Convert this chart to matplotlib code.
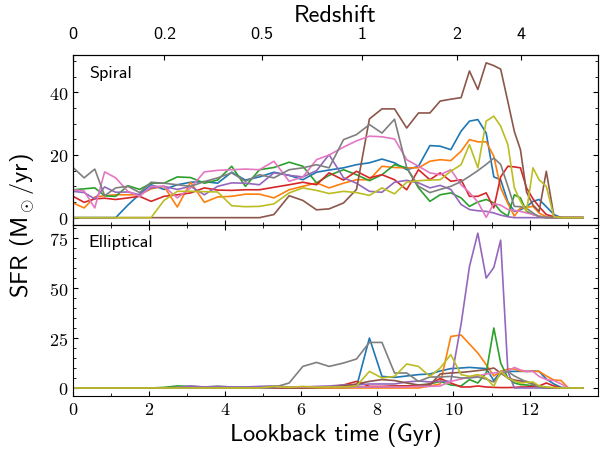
import numpy as np
import matplotlib
matplotlib.use('Agg')
import matplotlib.pyplot as plt
from matplotlib.ticker import MultipleLocator, AutoMinorLocator

plt.rcParams['mathtext.fontset'] = 'cm'
plt.rcParams['axes.formatter.use_mathtext'] = True
plt.rcParams['font.family'] = 'cmr10'

# lookback time of the snapshots (Gyr)
time = [0.00, 0.29, 0.57, 0.83, 1.12, 1.44, 1.75, 2.05, 2.39, 2.74, 3.09, 3.45, 3.80,
        4.17, 4.53, 4.90, 5.28, 5.68, 6.04, 6.40, 6.73, 7.11, 7.45, 7.79, 8.12, 8.45,
        8.77, 9.08, 9.38, 9.65, 9.93, 10.20, 10.42, 10.64, 10.86, 11.06, 11.24, 11.43,
        11.60, 11.76, 11.92, 12.09, 12.25, 12.44, 12.64, 12.83, 13.02, 13.21, 13.40]

spiral = {
    'blue':   [0, 0, 0, 0, 0, 4, 7.5, 10.5, 9, 10.5, 11.3, 11.5, 11, 14.5, 12, 13, 14.5, 13.5,
               12.1, 14.5, 15.2, 15.9, 16.9, 17.5, 18.7, 17.5, 15.3, 16.4, 23, 22.8, 21.7, 27.6,
               30.8, 31.3, 27, 13, 12.1, 5, 2, 2.5, 3.5, 5.2, 5.8, 3.5, 1, 0, 0, 0, 0],
    'orange': [4.7, 3.1, 6.6, 7, 7.3, 7.3, 7.3, 9.2, 10, 3.4, 11.3, 4.9, 6.6, 6.8, 7.5, 7.5,
               6.3, 8.9, 10, 11.1, 9.5, 11, 12.1, 12.1, 16.4, 16, 15.9, 15.9, 18, 18.5, 18.2,
               21.2, 24.9, 24.2, 24.2, 19.6, 9.5, 4.5, 0.5, 3.1, 3.3, 3.6, 1.5, 0.3, 0, 0, 0, 0, 0],
    'green':  [8.9, 9.2, 9.5, 7, 6.8, 10.2, 9, 11, 11, 13, 12.8, 11, 12, 16.4, 10, 15.3, 16,
               17.7, 16.4, 11.1, 13.5, 15.3, 13.7, 11.8, 13.7, 16.9, 15.9, 9.5, 5.2, 7.3, 7.9,
               6.3, 3.6, 5, 5.8, 4.7, 2, 0.5, 7.3, 6.3, 2, 1, 0.5, 0, 0, 0, 0, 0, 0],
    'red':    [6.8, 4.9, 6, 6.2, 5.8, 6.3, 6.8, 5.2, 6.8, 7.3, 7.9, 9.5, 8.8, 8.7, 8.9, 8.9,
               9.7, 10.5, 11.3, 10.5, 14.3, 12, 14.8, 12.7, 13.7, 12.1, 8.9, 15.3, 12.1, 14.3,
               11.6, 12.1, 6.8, 6.8, 7.9, 3.1, 13, 16.4, 16.2, 15.9, 9.5, 6, 3.5, 1, 0.3, 0, 0, 0, 0],
    'purple': [8.4, 8, 6, 9.8, 8.1, 8.2, 7.3, 9.5, 10, 9, 10, 7.3, 10, 11.1, 11, 10.5, 14.3,
               13.5, 13, 15, 20.1, 12.7, 11, 8.4, 8.1, 11.3, 11.9, 11.1, 9.5, 10.3, 9, 4.2, 2.6,
               2.2, 2, 1.5, 0.8, 0.3, 0, 0, 0, 0, 0, 0, 0, 0, 0, 0, 0],
    'brown':  [0, 0, 0, 0, 0, 0, 0, 0, 0, 0, 0, 0, 0, 0, 0, 0, 1, 7, 5.5, 2.5, 2.8, 4.7, 9,
               31.5, 34.7, 34.7, 28.6, 33.4, 33.4, 37.2, 37.8, 38.3, 46.8, 40.9, 49.4, 48.5,
               47.4, 37, 27.5, 21.7, 8.2, 4, 2, 14.8, 0.5, 0, 0, 0, 0],
    'pink':   [8.9, 8.5, 3.1, 14.6, 12.7, 8.4, 6.8, 10, 10, 6.3, 9.5, 14.6, 15.1, 15.3, 15.5,
               15.3, 18, 11.6, 13, 18.5, 20, 22.5, 24.5, 26, 25.8, 25.1, 18.5, 16.4, 14.3, 13.7,
               15.3, 10.5, 8, 5, 0.1, 4.5, 4, 2.6, 2.3, 2, 1.5, 1, 0.5, 0, 0, 0, 0, 0, 0],
    'gray':   [16, 12.7, 15.5, 7, 9.5, 10, 8, 11.3, 11, 10.5, 10, 11.5, 12.7, 14.3, 11.6, 13.7,
               12.7, 15.3, 15.9, 16.9, 15.9, 24.9, 26.5, 29.7, 27, 31.4, 16, 10, 8, 9, 10, 11.5,
               13.2, 15, 17, 19, 17, 10, 3.6, 3.5, 3, 1.5, 0.2, 0, 0, 0, 0, 0, 0],
    'olive':  [0, 0, 0, 0, 0, 0, 0, 0, 5.5, 8.4, 8.4, 8.3, 8.2, 3.8, 3.5, 3.6, 4.4, 7.9, 9.5,
               8.7, 7.7, 8.4, 8, 7.1, 9.5, 7.6, 11.3, 11.8, 12, 12.1, 14.8, 16.9, 23.3, 15.9,
               30.8, 32.4, 29.2, 23.3, 9.5, 5.2, 2, 15.9, 12.1, 10, 0.3, 0, 0, 0, 0],
}

elliptical = {
    'blue':   [0]*22 + [0.5, 25, 5.8, 5.3, 6, 6.7, 7, 8.5, 9.7, 10, 10.3, 10, 9.7, 3.7, 8.3,
                        8.3, 8.3, 8.3, 8.3, 8.5, 8.3, 4.5, 2, 0.3, 0, 0, 0],
    'orange': [0]*28 + [1, 2, 25.8, 26.5, 22, 17.5, 11.7, 6, 8.3, 9.5, 9.5, 8.5, 8.3, 8.3,
                        8.3, 6, 4, 3.7, 0, 0, 0],
    'green':  [0, 0, 0, 0, 0, 0, 0, 0, 0.3, 1, 0.8, 0.5, 0.8, 0.5, 0.5, 0.5, 0.8, 0.5, 0.3,
               0.3, 0.5, 0.5, 0.5, 0.5, 0.5, 0.8, 1, 1.5, 2, 3.3, 1.5, 1, 4.2, 2.5, 7.5, 30,
               12.5, 5, 2.5, 1.7, 1.5, 1, 0.5, 0, 0, 0, 0, 0, 0],
    'red':    [0]*18 + [0.2, 0.3, 0.5, 1.5, 3.3, 0.8, 0.8, 1, 1, 1, 2, 4.7, 2.5, 0.5, 0.5, 1,
                        0.5, 0.3, 0.2, 0.2, 0.3, 0.5, 0.5, 0.8, 1, 2.5, 1, 0, 0, 0, 0],
    'purple': [0, 0, 0, 0, 0, 0, 0, 0, 0, 0.3, 1, 0.5, 0.8, 0.5, 0.5, 0.8, 1, 0.5, 0.5, 0.8,
               1, 1.5, 1.5, 2, 2, 2, 3, 3.5, 3, 3.3, 3.3, 32, 60.8, 77.5, 55, 60.3, 74, 8.3,
               0, 0, 0, 0, 0, 0, 0, 0, 0, 0, 0],
    'brown':  [0]*19 + [0.3, 0.5, 1, 2, 3.3, 4.2, 3.7, 2.5, 1.5, 1.5, 7, 7.5, 7.8, 8.2, 8.7,
                        9.2, 10, 7.5, 5, 4, 3.5, 3.3, 2, 1, 0.3, 0, 0, 0, 0, 0],
    'pink':   [0]*16 + [0.3, 0.5, 0.5, 0.5, 0.5, 0.5, 0.5, 0.5, 0.5, 0.5, 0.5, 0.8, 0.8, 1,
                        3.3, 4.5, 5.5, 6, 7, 7.5, 8, 8.3, 10.3, 9, 8.3, 8.3, 5.8, 4.2, 3.7,
                        2, 0, 0, 0],
    'gray':   [0]*16 + [0.3, 2.5, 10.8, 12.8, 10.8, 12.5, 14.5, 22.8, 22.8, 7.5, 7.5, 3.3, 5.5,
                        5.5, 5.8, 5, 5, 5.5, 4.5, 3, 7, 8.3, 6, 4.5, 3, 1.7, 0.3, 0, 0, 0, 0,
                        0, 0],
    'olive':  [0]*16 + [0.8, 0.3, 0.8, 0.3, 0.5, 0.5, 1, 8.3, 5, 5.8, 12, 10.8, 5.8, 10, 16.7,
                        6.7, 5.8, 6.7, 5, 0.8, 8.3, 5, 3.5, 2.5, 2.8, 3, 1, 0.5, 0.2, 0, 0, 0,
                        0],
}

colors = {'blue': 'tab:blue', 'orange': 'tab:orange', 'green': 'tab:green',
          'red': 'tab:red', 'purple': 'tab:purple', 'brown': 'tab:brown',
          'pink': 'tab:pink', 'gray': 'tab:gray', 'olive': 'tab:olive'}

z_ticks = [0, 0.2, 0.5, 1, 2, 4]


def lookback(z, H0=71.0, Om=0.3):
    zz = np.linspace(0, z, 2001)
    E = np.sqrt(Om * (1 + zz)**3 + 1 - Om)
    return 977.8 / H0 * np.trapezoid(1 / ((1 + zz) * E), zz)


fig, (ax1, ax2) = plt.subplots(2, 1, sharex=True, figsize=(6.09, 4.56), dpi=100)
fig.subplots_adjust(left=0.12, right=0.982, top=0.877, bottom=0.13, hspace=0)

for name, vals in spiral.items():
    ax1.plot(time, vals, color=colors[name], lw=1.2)
for name, vals in elliptical.items():
    ax2.plot(time, vals, color=colors[name], lw=1.2)

ax1.set_xlim(0, 13.8)
ax1.xaxis.set_major_locator(MultipleLocator(2))
ax1.xaxis.set_minor_locator(MultipleLocator(1))
ax1.yaxis.set_major_locator(MultipleLocator(20))
ax2.yaxis.set_major_locator(MultipleLocator(25))
for ax in (ax1, ax2):
    ax.yaxis.set_minor_locator(AutoMinorLocator())
    ax.tick_params(which='both', direction='in', top=True, right=True, labelsize=13)

ax1.text(0.03, 0.895, 'Spiral', transform=ax1.transAxes, fontsize=13,
         family='cmss10', va='center')
ax2.text(0.03, 0.905, 'Elliptical', transform=ax2.transAxes, fontsize=13,
         family='cmss10', va='center')

ax2.set_xlabel('Lookback time (Gyr)', fontsize=17.5, family='cmss10')
fig.text(0.036, 0.505, 'SFR (M$_\\odot$/yr)', rotation=90, fontsize=17.5,
         family='cmss10', ha='center', va='center')

top = ax1.twiny()
top.set_xlim(ax1.get_xlim())
top.set_xticks([lookback(z) for z in z_ticks])
top.set_xticklabels([str(z) for z in z_ticks], family='cmss10', fontsize=13)
top.tick_params(direction='in', pad=10)
top.set_xlabel('Redshift', fontsize=17.5, family='cmss10', labelpad=4)

fig.savefig('out.png', dpi=100)
